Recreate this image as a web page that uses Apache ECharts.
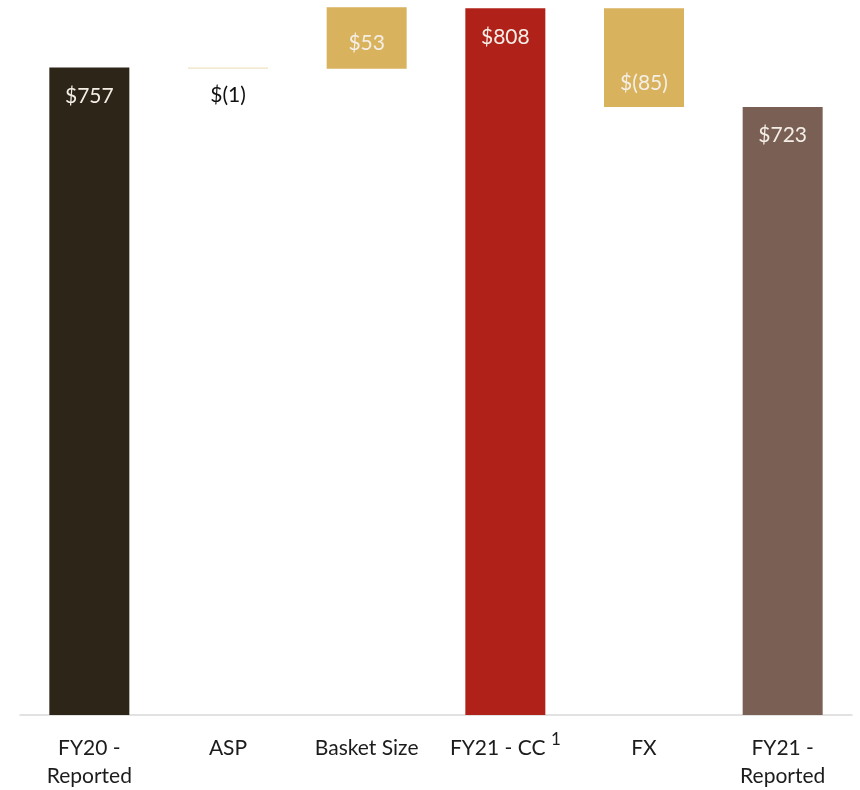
<!DOCTYPE html>
<html>
<head>
<meta charset="utf-8">
<script src="https://cdn.jsdelivr.net/npm/echarts@6/dist/echarts.min.js"></script>
<style>
  html, body { margin: 0; padding: 0; background: #ffffff; }
  #chart { width: 860px; height: 790px; }
</style>
</head>
<body>
<div id="chart"></div>
<script>
// Revenue bridge: FY20 reported -> FY21 constant currency -> FY21 reported
const categories = ['FY20 -\nReported', 'ASP', 'Basket Size', 'FY21 - CC', 'FX', 'FY21 -\nReported'];
const footnotes = ['', '', '', '1', '', ''];
const amounts = [757, -1, 53, 808, -85, 723];
const kinds = ['total', 'delta', 'delta', 'total', 'delta', 'total'];
const valueLabels = ['$757', '$(1)', '$53', '$808', '$(85)', '$723'];
const barColors = ['#2e2519', '#efe2c2', '#d9b25e', '#b0211a', '#d9b25e', '#7a5f55'];

// Floating segments: hidden base + visible span
const baseValues = [];
const spanValues = [];
let running = 0;
amounts.forEach((amt, i) => {
  if (kinds[i] === 'total') {
    baseValues.push(0);
    spanValues.push(amt);
    running = amt;
  } else {
    baseValues.push(running + Math.min(0, amt));
    spanValues.push(Math.abs(amt));
    running += amt;
  }
});

const FONT = 'Lato, "Open Sans", "Noto Sans", sans-serif';
const inkLight = '#f4efe6';

function labelFor(i) {
  const common = { show: true, formatter: valueLabels[i], fontFamily: FONT, fontSize: 21 };
  if (kinds[i] === 'total') {
    return Object.assign(common, { position: 'insideTop', distance: 18, color: inkLight });
  }
  if (amounts[i] < 0 && Math.abs(amounts[i]) < 10) {
    return Object.assign(common, { position: 'bottom', distance: 16, color: '#111111' });
  }
  if (amounts[i] < 0) {
    return Object.assign(common, { position: 'insideBottom', distance: 13, color: inkLight });
  }
  return Object.assign(common, { position: 'inside', offset: [0, 5], color: inkLight });
}

const chart = echarts.init(document.getElementById('chart'), null, { renderer: 'canvas' });

chart.setOption({
  animation: false,
  backgroundColor: '#ffffff',
  grid: { left: 20, right: 8, top: 6, bottom: 74, containLabel: false },
  xAxis: {
    type: 'category',
    data: categories,
    axisLine: { show: true, lineStyle: { color: '#d9d9d9', width: 1.5 } },
    axisTick: { show: false },
    axisLabel: {
      margin: 19,
      interval: 0,
      lineHeight: 28,
      fontFamily: FONT,
      fontSize: 21,
      color: '#1c1c1c',
      formatter: (value, idx) => {
        const fn = footnotes[idx];
        return fn ? '{t|' + value + '} {sup|' + fn + '}' : '{t|' + value + '}';
      },
      rich: {
        t: { fontFamily: FONT, fontSize: 21, color: '#1c1c1c', lineHeight: 28 },
        sup: { fontFamily: FONT, fontSize: 17, color: '#1c1c1c', padding: [0, 0, 17, 0] }
      }
    }
  },
  yAxis: {
    type: 'value',
    min: 200,
    max: 810,
    show: false,
    splitLine: { show: false }
  },
  series: [
    {
      name: 'base',
      type: 'bar',
      stack: 'bridge',
      barWidth: 80,
      clip: true,
      silent: true,
      itemStyle: { color: 'transparent' },
      data: baseValues
    },
    {
      name: 'value',
      type: 'bar',
      stack: 'bridge',
      barWidth: 80,
      clip: true,
      data: spanValues.map((v, i) => ({
        value: v,
        itemStyle: { color: barColors[i] },
        label: labelFor(i)
      }))
    }
  ]
});
</script>
</body>
</html>
